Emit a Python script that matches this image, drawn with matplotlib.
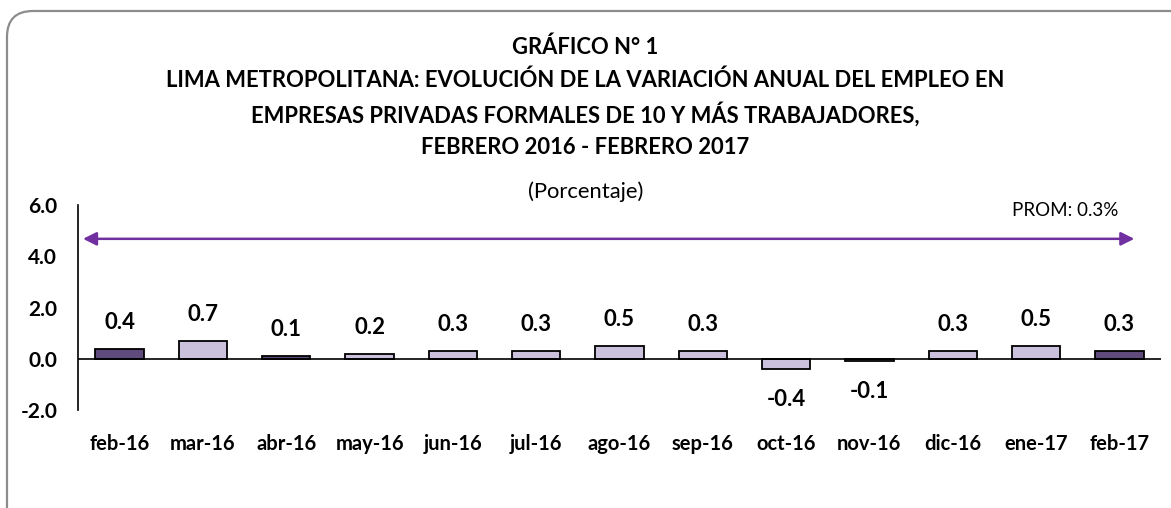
"""Lima Metropolitana: variación anual del empleo, feb-2016 a feb-2017."""
import matplotlib
matplotlib.use("Agg")
import matplotlib.pyplot as plt
from matplotlib.patches import FancyBboxPatch

months = ["feb-16", "mar-16", "abr-16", "may-16", "jun-16", "jul-16", "ago-16",
          "sep-16", "oct-16", "nov-16", "dic-16", "ene-17", "feb-17"]
variation = [0.4, 0.7, 0.1, 0.2, 0.3, 0.3, 0.5, 0.3, -0.4, -0.1, 0.3, 0.5, 0.3]
highlighted = ["feb-16", "abr-16", "feb-17"]
average_label = "PROM: 0.3%"
y_ticks = [-2.0, 0.0, 2.0, 4.0, 6.0]

title_lines = [
    "GRÁFICO N° 1",
    "LIMA METROPOLITANA: EVOLUCIÓN DE LA VARIACIÓN ANUAL DEL EMPLEO EN",
    "EMPRESAS PRIVADAS FORMALES DE 10 Y MÁS TRABAJADORES,",
    "FEBRERO 2016 - FEBRERO 2017",
]

DARK = "#5f4b7c"
LIGHT = "#ccc1dc"
ARROW = "#7030a0"

plt.rcParams["font.family"] = ["Lato", "DejaVu Sans"]

fig = plt.figure(figsize=(11.71, 5.08), dpi=100)
W, H = 1171, 508

# background axes in pixel units, used only for the rounded outer frame
bg = fig.add_axes([0, 0, 1, 1])
bg.set_xlim(0, W)
bg.set_ylim(H, 0)
bg.axis("off")
bg.add_patch(FancyBboxPatch((7, 11), 1300, 600,
                            boxstyle="round,pad=0,rounding_size=26",
                            facecolor="none", edgecolor="#8c8c8c", linewidth=1.6))

title_y = [47, 80, 114, 148]
for line, y in zip(title_lines, title_y):
    fig.text(0.5, 1 - y / H, line, ha="center", va="center",
             fontsize=15.8, fontweight="bold", color="black")
fig.text(0.5, 1 - 192 / H, "(Porcentaje)", ha="center", va="center",
         fontsize=15.8, color="black")

ax = fig.add_axes([78 / W, 1 - 410 / H, (1161 - 78) / W, (410 - 205) / H])
x = list(range(len(months)))
colors = [DARK if m in highlighted else LIGHT for m in months]
ax.bar(x, variation, width=0.58, color=colors, edgecolor="black", linewidth=1.3, zorder=3)
ax.axhline(0, color="black", linewidth=1.2, zorder=4)

for xi, v in zip(x, variation):
    if v >= 0:
        ax.annotate(f"{v:.1f}", (xi, v), xytext=(0, 19), textcoords="offset points",
                    ha="center", va="center", fontsize=16, fontweight="bold")
    else:
        ax.annotate(f"{v:.1f}", (xi, v), xytext=(0, -22), textcoords="offset points",
                    ha="center", va="center", fontsize=16, fontweight="bold")

# average arrow
ax.annotate("", xy=(-0.44, 4.68), xytext=(12.18, 4.68),
            arrowprops=dict(arrowstyle="<|-|>", color=ARROW, lw=1.8,
                            mutation_scale=20, shrinkA=0, shrinkB=0),
            annotation_clip=False)
ax.text(11.35, 5.8, average_label, ha="center", va="center", fontsize=13.5)

ax.set_xlim(-0.5, 12.5)
ax.set_ylim(-2, 6)
ax.set_yticks(y_ticks)
ax.set_yticklabels([f"{t:.1f}" for t in y_ticks], fontsize=15, fontweight="bold")
ax.set_xticks(x)
ax.set_xticklabels(months, fontsize=14.5, fontweight="bold")
ax.tick_params(axis="y", length=0, pad=15)
ax.tick_params(axis="x", length=0, pad=17)
for side in ["top", "right", "bottom"]:
    ax.spines[side].set_visible(False)
ax.spines["left"].set_linewidth(1.2)
ax.patch.set_alpha(0)

fig.savefig("out.png", dpi=100)
